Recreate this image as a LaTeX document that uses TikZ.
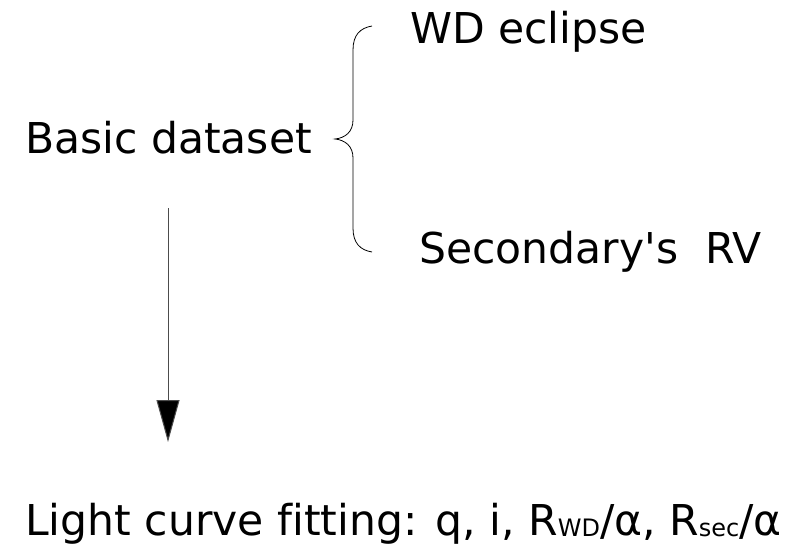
\documentclass[tikz,border=0pt]{standalone}
\usepackage{fontspec}
\setmainfont[Ligatures={TeXOff,NoCommon}]{DejaVu Sans}
\usetikzlibrary{arrows.meta}
\tikzset{
  lbl/.style={inner sep=0pt, anchor=base west, font=\fontsize{42.5}{50}\selectfont},
  conn/.style={line width=1pt, draw=black!70},
}
\newcommand{\subtxt}[1]{\raisebox{-1pt}{\fontsize{24}{30}\selectfont #1}}
\begin{document}
\begin{tikzpicture}[x=1pt,y=-1pt]
\useasboundingbox[fill=white] (0,0) rectangle (791,547);
\node[lbl] (basic) at (25,153) {Basic dataset};
\node[lbl] (wd) at (410,43) {WD eclipse};
\node[lbl] (rv) at (419,263) {Secondary's\ \ RV};
\node[lbl] (fit) at (25,535) {Light curve fitting: q, i, R\subtxt{WD}/α, R\subtxt{sec}/α};
\coordinate (btop) at (372,26);
\coordinate (bmid) at (335,139);
\coordinate (bbot) at (372,252);
\draw[line width=0.8pt] (btop) .. controls (360,28) and (353,35) .. (353,50)
  -- (353,120) .. controls (353,132) and (345,138) .. (bmid)
  .. controls (345,140) and (353,146) .. (353,158)
  -- (353,228) .. controls (353,243) and (360,250) .. (bbot);
\coordinate (astart) at (168,208);
\coordinate (aend) at (168,442);
\draw[conn, -{Triangle[length=42pt,width=23pt,fill=black]}] (astart) -- (aend);
\end{tikzpicture}
\end{document}
